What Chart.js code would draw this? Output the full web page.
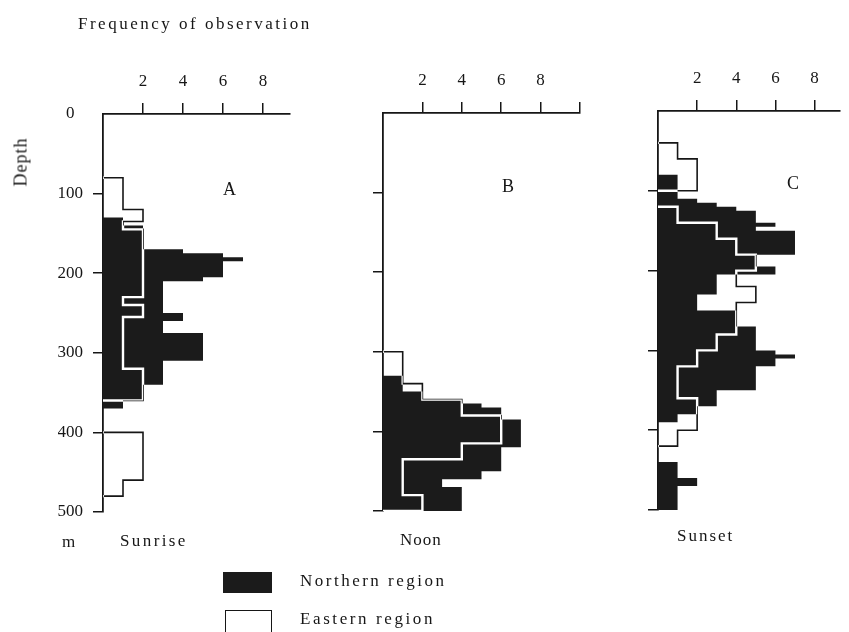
<!DOCTYPE html>
<html>
<head>
<meta charset="utf-8">
<script src="https://cdn.jsdelivr.net/npm/chart.js@4.4.0/dist/chart.umd.min.js"></script>
<style>
  body { margin: 0; background: #fff; width: 849px; height: 632px; overflow: hidden; position: relative;
         font-family: "Liberation Serif", "DejaVu Serif", serif; color: #161616; }
  canvas { position: absolute; left: 0; top: 0; }
  .t { position: absolute; white-space: nowrap; line-height: 1; }
</style>
</head>
<body>
<canvas id="chartA" width="849" height="632"></canvas>
<canvas id="chartB" width="849" height="632"></canvas>
<canvas id="chartC" width="849" height="632"></canvas>

<div class="t" style="left:78px;top:15px;font-size:17px;letter-spacing:2.5px">Frequency of observation</div>
<div class="t" style="left:-4px;top:153px;font-size:18px;letter-spacing:1px;transform:rotate(-90deg)">Depth</div>
<div class="t" style="left:62px;top:533px;font-size:17px">m</div>
<div class="t" style="left:120px;top:532px;font-size:17px;letter-spacing:2.4px">Sunrise</div>
<div class="t" style="left:400px;top:531px;font-size:17px;letter-spacing:1px">Noon</div>
<div class="t" style="left:677px;top:527px;font-size:17px;letter-spacing:2px">Sunset</div>
<div class="t" style="left:223px;top:180px;font-size:18px">A</div>
<div class="t" style="left:502px;top:177px;font-size:18px">B</div>
<div class="t" style="left:787px;top:174px;font-size:18px">C</div>

<div style="position:absolute;left:223px;top:572px;width:49px;height:21px;background:#1b1b1b"></div>
<div class="t" style="left:300px;top:572px;font-size:17px;letter-spacing:2.5px">Northern region</div>
<div style="position:absolute;left:225px;top:610px;width:45px;height:24px;border:1.5px solid #161616"></div>
<div class="t" style="left:300px;top:610px;font-size:17px;letter-spacing:2.6px">Eastern region</div>

<script>
// tick labels
const depthTicks = [0, 100, 200, 300, 400, 500];
const freqTicks = [2, 4, 6, 8];

// [depth from (m), depth to (m), frequency]
const northernSunrise = [
  [130, 140, 1], [140, 170, 2], [170, 175, 4], [175, 180, 6], [180, 185, 7],
  [185, 205, 6], [205, 210, 5], [210, 250, 3], [250, 260, 4], [260, 275, 3],
  [275, 310, 5], [310, 340, 3], [340, 360, 2], [360, 370, 1]
];
const easternSunrise = [
  [80, 120, 1], [120, 135, 2], [135, 145, 1], [145, 230, 2], [230, 240, 1],
  [240, 255, 2], [255, 320, 1], [320, 360, 2],
  [400, 460, 2], [460, 480, 1]
];

const northernNoon = [
  [330, 350, 1], [350, 360, 2], [360, 365, 4], [365, 370, 5], [370, 385, 6],
  [385, 420, 7], [420, 450, 6], [450, 460, 5], [460, 470, 3], [470, 500, 4]
];
const easternNoon = [
  [300, 340, 1], [340, 360, 2], [360, 380, 4], [380, 415, 6], [415, 435, 4],
  [435, 480, 1], [480, 500, 2]
];

const northernSunset = [
  [80, 110, 1], [110, 115, 2], [115, 120, 3], [120, 125, 4], [125, 140, 5],
  [140, 145, 6], [145, 150, 5], [150, 180, 7], [180, 195, 5], [195, 205, 6],
  [205, 230, 3], [230, 250, 2], [250, 270, 4], [270, 300, 5], [300, 305, 6],
  [305, 310, 7], [310, 320, 6], [320, 350, 5], [350, 370, 3], [370, 380, 2],
  [380, 390, 1],
  [440, 460, 1], [460, 470, 2], [470, 500, 1]
];
const easternSunset = [
  [40, 60, 1], [60, 100, 2],
  [120, 140, 1], [140, 160, 3], [160, 180, 4], [180, 200, 5], [200, 220, 4],
  [220, 240, 5], [240, 280, 4], [280, 300, 3], [300, 320, 2], [320, 360, 1],
  [360, 400, 2], [400, 420, 1]
];

const ink = '#161616';
const tickFont = { family: '"Liberation Serif", serif', size: 17 };

// histogram segments -> step outline points; gaps either closed along the axis or left open
function stepOutline(segs, closeAlongAxis) {
  const pts = [];
  let prevEnd = null;
  segs.forEach(([top, bottom, v]) => {
    if (prevEnd !== top) {
      if (prevEnd !== null) {
        pts.push({ x: 0, y: prevEnd });
        if (!closeAlongAxis) pts.push({ x: 0, y: null });
      }
      pts.push({ x: 0, y: top });
    }
    pts.push({ x: v, y: top });
    pts.push({ x: v, y: bottom });
    prevEnd = bottom;
  });
  if (prevEnd !== null) pts.push({ x: 0, y: prevEnd });
  return pts;
}

// eastern outline: white where it lies on the black bars, black elsewhere
const layerPlugin = {
  id: 'layer',
  beforeDatasetDraw(chart, args) {
    const op = chart.data.datasets[args.index].blend;
    if (op) {
      chart.ctx.save();
      chart.ctx.globalCompositeOperation = op;
    }
  },
  afterDatasetDraw(chart, args) {
    if (chart.data.datasets[args.index].blend) chart.ctx.restore();
  }
};

function createPanel(id, northern, eastern, area, maxFreq, depthLabels) {
  const W = 45, H = 45;
  const tickColor = c => (c.tick && c.tick.value > 0) ? ink : 'rgba(0,0,0,0)';
  return new Chart(document.getElementById(id), {
    type: 'line',
    data: {
      datasets: [
        { label: 'Northern region', data: stepOutline(northern, true), fill: 'shape',
          backgroundColor: '#1b1b1b', borderWidth: 0, pointRadius: 0, order: 3 },
        { label: 'Eastern region', data: stepOutline(eastern, false), fill: false,
          borderColor: '#ffffff', borderWidth: 2.4, pointRadius: 0, spanGaps: false,
          order: 2, blend: 'source-atop' },
        { label: 'Eastern region', data: stepOutline(eastern, false), fill: false,
          borderColor: ink, borderWidth: 1.6, pointRadius: 0, spanGaps: false,
          order: 1, blend: 'destination-over' }
      ]
    },
    options: {
      responsive: false,
      animation: false,
      devicePixelRatio: 1,
      layout: { padding: { left: area.left - W, top: area.top - H, right: 849 - area.right, bottom: 632 - area.bottom } },
      elements: { line: { tension: 0 } },
      plugins: { legend: { display: false }, tooltip: { enabled: false } },
      scales: {
        x: {
          type: 'linear', position: 'top', min: 0, max: maxFreq,
          afterFit: s => { s.height = H; },
          ticks: { stepSize: 2, includeBounds: false, padding: 11, color: ink, font: tickFont,
                   callback: v => freqTicks.includes(v) ? String(v) : '' },
          grid: { drawOnChartArea: false, tickLength: 11, lineWidth: 1.5, color: tickColor },
          border: { color: ink, width: 1.8 }
        },
        y: {
          type: 'linear', reverse: true, min: 0, max: 500,
          afterFit: s => { s.width = W; },
          ticks: { stepSize: 100, includeBounds: false, padding: 10, color: ink, font: tickFont,
                   callback: v => (depthLabels && depthTicks.includes(v)) ? (v === 0 ? '0  ' : String(v)) : '' },
          grid: { drawOnChartArea: false, tickLength: 10, lineWidth: 1.5, color: tickColor },
          border: { color: ink, width: 1.8 }
        }
      }
    },
    plugins: [layerPlugin]
  });
}

createPanel('chartA', northernSunrise, easternSunrise, { left: 103, right: 290, top: 114, bottom: 512 }, 9.35, true);
createPanel('chartB', northernNoon, easternNoon, { left: 383, right: 580, top: 113, bottom: 511 }, 10, false);
createPanel('chartC', northernSunset, easternSunset, { left: 658, right: 840, top: 111, bottom: 510 }, 9.3, false);
</script>
</body>
</html>
